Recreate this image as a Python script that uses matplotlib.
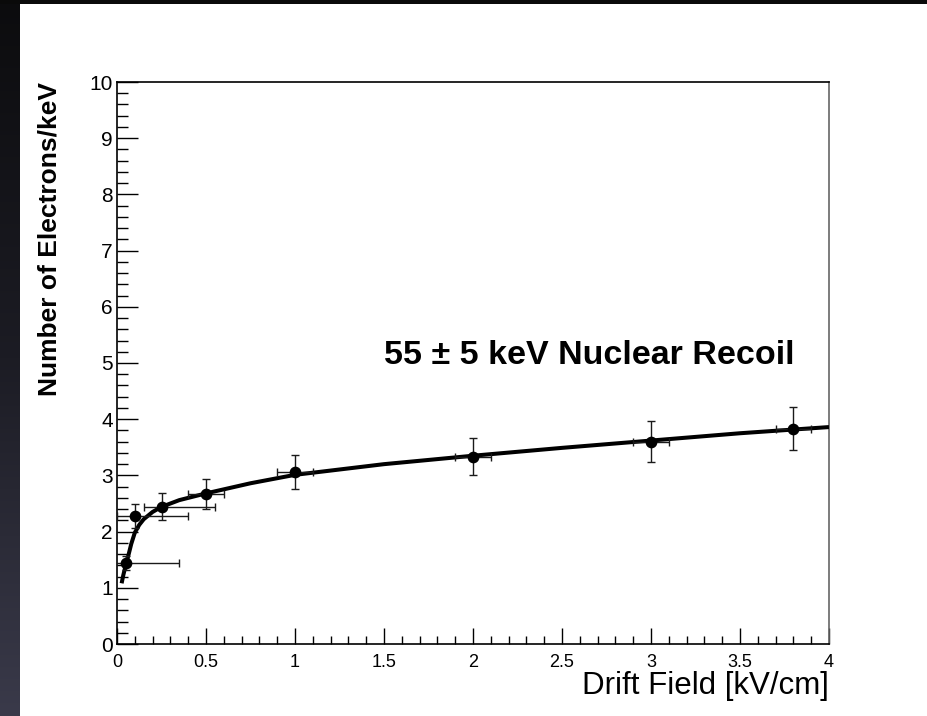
import numpy as np
import matplotlib
matplotlib.use("Agg")
import matplotlib.pyplot as plt
from matplotlib.ticker import MultipleLocator
from matplotlib.colors import LinearSegmentedColormap

plt.rcParams['font.family'] = ['Liberation Sans', 'DejaVu Sans']

# Measured charge yield vs drift field
field = [0.05, 0.1, 0.25, 0.5, 1.0, 2.0, 3.0, 3.8]
electrons = [1.44, 2.28, 2.44, 2.67, 3.06, 3.33, 3.60, 3.83]
electrons_err = [0.12, 0.22, 0.24, 0.27, 0.30, 0.33, 0.36, 0.38]
field_err_lo = [0.1, 0.1, 0.1, 0.1, 0.1, 0.1, 0.1, 0.1]
field_err_hi = [0.3, 0.3, 0.3, 0.1, 0.1, 0.1, 0.1, 0.1]

# Fitted yield curve
fit_field = [0.026, 0.035, 0.045, 0.054, 0.065, 0.08, 0.1, 0.125, 0.15, 0.2,
             0.25, 0.35, 0.5, 0.75, 1.0, 1.5, 2.0, 2.5, 3.0, 3.5, 4.0]
fit_electrons = [1.08, 1.22, 1.35, 1.46, 1.59, 1.78, 1.98, 2.12, 2.22, 2.35,
                 2.44, 2.56, 2.68, 2.86, 3.01, 3.20, 3.35, 3.49, 3.62, 3.75, 3.86]

x_ticks = [0, 0.5, 1, 1.5, 2, 2.5, 3, 3.5, 4]
x_tick_labels = ['0', '0.5', '1', '1.5', '2', '2.5', '3', '3.5', '4']
y_ticks = list(range(0, 11))

W, H = 927, 716
fig = plt.figure(figsize=(W / 100, H / 100), dpi=100, facecolor='white')

# Dark frame along the top and left edge
bg = fig.add_axes([0, 0, 1, 1], zorder=-10)
bg.set_axis_off()
bg.set_xlim(0, W)
bg.set_ylim(H, 0)
grad = np.linspace(0, 1, 256).reshape(-1, 1)
cmap = LinearSegmentedColormap.from_list('edge', ['#0c0c0e', '#1c1c24', '#3a3a4a'])
bg.imshow(grad, cmap=cmap, extent=[0, 20, H, 0], aspect='auto', interpolation='bilinear')
bg.add_patch(plt.Rectangle((0, 0), W, 4, color='#0a0a0a', lw=0))

ax = fig.add_axes([117 / W, 1 - 644 / H, (829 - 117) / W, (644 - 82) / H])
ax.set_xlim(0, 4)
ax.set_ylim(0, 10)

ax.plot(fit_field, fit_electrons, color='black', lw=2.9, solid_capstyle='butt', zorder=3)
ax.errorbar(field, electrons, yerr=electrons_err,
            xerr=[field_err_lo, field_err_hi],
            fmt='o', color='black', ms=7.4, ecolor='#1a1a1a', elinewidth=1.0,
            capsize=2.6, capthick=1.0, zorder=4)

ax.text(1.5, 4.98, '55 ± 5 keV Nuclear Recoil', fontsize=24.5, fontweight='bold',
        ha='left', va='baseline')

ax.set_xticks(x_ticks)
ax.set_xticklabels(x_tick_labels)
ax.set_yticks(y_ticks)
ax.xaxis.set_minor_locator(MultipleLocator(0.1))
ax.yaxis.set_minor_locator(MultipleLocator(0.2))
ax.tick_params(axis='x', which='major', direction='in', length=11.5, width=1.0,
               labelsize=13, pad=7)
ax.tick_params(axis='x', which='minor', direction='in', length=5.8, width=1.0)
ax.tick_params(axis='y', which='major', direction='in', length=15, width=1.0,
               labelsize=15, pad=3)
ax.tick_params(axis='y', which='minor', direction='in', length=8, width=1.0)
for side in ['left', 'bottom', 'top']:
    ax.spines[side].set_linewidth(1.2)
ax.spines['right'].set_linewidth(1.2)
ax.spines['right'].set_color('#666666')

fig.text(50 / W, 1 - 82 / H, 'Number of Electrons/keV', rotation=90,
         fontsize=19, fontweight='bold', ha='center', va='top')
fig.text(829 / W, 1 - 694 / H, 'Drift Field [kV/cm]', fontsize=22.5,
         ha='right', va='baseline')

fig.savefig('out.png', dpi=100, facecolor='white')
